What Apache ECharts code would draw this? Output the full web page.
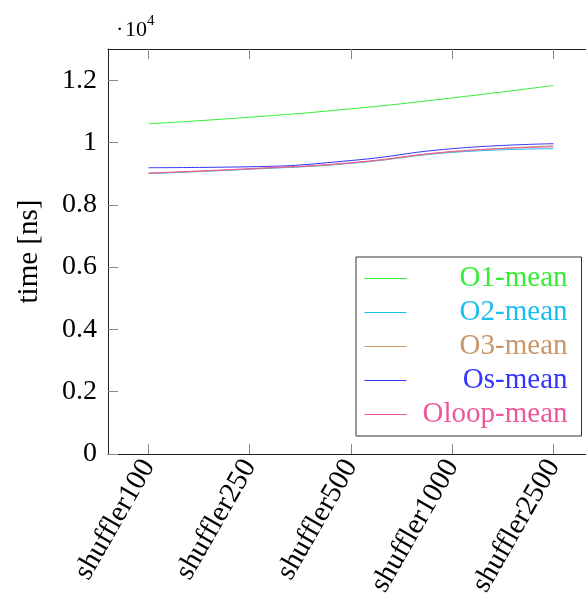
<!DOCTYPE html>
<html>
<head>
<meta charset="utf-8">
<script src="https://cdn.jsdelivr.net/npm/echarts@6/dist/echarts.min.js"></script>
<style>
html,body{margin:0;padding:0;background:#fff;}
#chart{width:586px;height:598px;}
</style>
</head>
<body>
<div id="chart"></div>
<script>
// ---- data ----
const categories = ['shuffler100', 'shuffler250', 'shuffler500', 'shuffler1000', 'shuffler2500'];
const seriesNames = ['O1-mean', 'O2-mean', 'O3-mean', 'Os-mean', 'Oloop-mean'];
const o1 = [10600, 10810, 11080, 11430, 11830];
const o2 = [9000, 9140, 9330, 9680, 9800];
const o3 = [9010, 9150, 9340, 9700, 9890];
const os = [9190, 9220, 9420, 9800, 9960];
const oloop = [9020, 9160, 9350, 9710, 9860];
const yTicks = [0, 2000, 4000, 6000, 8000, 10000, 12000];
const xTicks = [0, 1, 2, 3, 4];

const colors = ['#33ee33', '#1bbdef', '#c9966a', '#3434ff', '#ef559b'];
const allValues = [o1, o2, o3, os, oloop];
const FONT = '"Liberation Serif", "Times New Roman", serif';

const chart = echarts.init(document.getElementById('chart'), null, {renderer: 'canvas'});

const series = seriesNames.map((name, i) => ({
  name: name,
  type: 'line',
  smooth: true,
  symbol: 'none',
  data: allValues[i].map((v, j) => [xTicks[j], v]),
  lineStyle: {color: colors[i], width: 1},
  itemStyle: {color: colors[i]},
  emphasis: {disabled: true}
}));

const option = {
  animation: false,
  backgroundColor: '#fff',
  textStyle: {fontFamily: FONT},
  grid: {left: 108, top: 49, right: -8, bottom: 144, containLabel: false, outerBoundsMode: 'none'},
  xAxis: [{
    type: 'value',
    min: -0.4, max: 4.4,
    axisLine: {show: true, onZero: false, lineStyle: {color: '#222', width: 1}},
    axisTick: {show: true, inside: true, length: 10, customValues: xTicks, lineStyle: {color: '#888'}},
    axisLabel: {
      customValues: xTicks,
      rotate: 60,
      margin: 8,
      fontSize: 29,
      color: '#000',
      fontFamily: FONT,
      formatter: v => categories[Math.round(v)]
    },
    splitLine: {show: false}
  }, {
    type: 'value',
    position: 'top',
    min: -0.4, max: 4.4,
    axisLine: {show: true, onZero: false, lineStyle: {color: '#222', width: 1}},
    axisTick: {show: true, inside: true, length: 10, customValues: xTicks, lineStyle: {color: '#888'}},
    axisLabel: {show: false},
    splitLine: {show: false}
  }],
  yAxis: {
    type: 'value',
    min: 0, max: 13000,
    name: 'time [ns]',
    nameLocation: 'middle',
    nameGap: 64,
    nameTextStyle: {fontSize: 29, color: '#000', fontFamily: FONT},
    axisLine: {show: true, onZero: false, lineStyle: {color: '#222', width: 1}},
    axisTick: {show: true, inside: true, length: 10, customValues: yTicks, lineStyle: {color: '#888'}},
    axisLabel: {
      customValues: yTicks,
      fontSize: 28,
      color: '#000',
      margin: 11,
      fontFamily: FONT,
      formatter: v => String(Math.round(v / 1000) / 10)
    },
    splitLine: {show: false}
  },
  legend: {
    orient: 'vertical',
    left: 356,
    top: 257,
    padding: [7, 14, 7, 8],
    itemWidth: 42,
    itemHeight: 30,
    itemGap: 5,
    backgroundColor: '#fff',
    borderColor: '#333',
    borderWidth: 1,
    borderRadius: 0,
    itemStyle: {opacity: 0, borderWidth: 0},
    lineStyle: {width: 1},
    formatter: name => '{t|' + name + '}',
    textStyle: {
      fontFamily: FONT,
      fontSize: 29,
      rich: {t: {width: 156, align: 'right', fontSize: 29, lineHeight: 30, fontFamily: FONT}}
    },
    selectedMode: false
  },
  graphic: [
    {type: 'text', style: {x: 116, y: 30, text: '·', fontSize: 22, fontFamily: FONT, fill: '#000', verticalAlign: 'middle'}},
    {type: 'text', style: {x: 125, y: 30, text: '10', fontSize: 22, fontFamily: FONT, fill: '#000', verticalAlign: 'middle'}},
    {type: 'text', style: {x: 147, y: 21, text: '4', fontSize: 15, fontFamily: FONT, fill: '#000', verticalAlign: 'middle'}}
  ],
  series: series
};

// color legend texts like the series
option.legend.data = seriesNames.map((n, i) => ({name: n, textStyle: {color: colors[i]}}));
chart.setOption(option);
</script>
</body>
</html>
